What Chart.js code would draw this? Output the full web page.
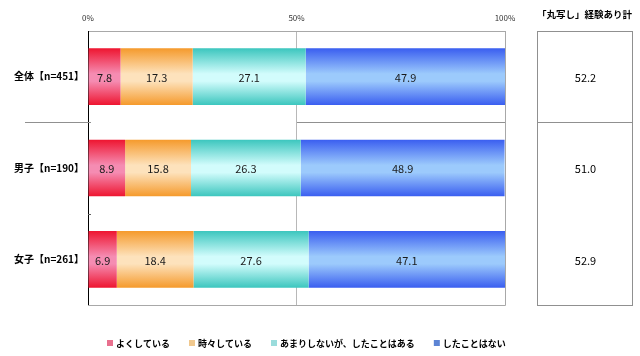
<!DOCTYPE html>
<html>
<head>
<meta charset="utf-8">
<script src="https://cdn.jsdelivr.net/npm/chart.js@4"></script>
<style>
html,body{margin:0;padding:0;background:#fff;}
#wrap{width:640px;height:356px;position:relative;}
</style>
</head>
<body>
<div id="wrap"><canvas id="c" width="640" height="356"></canvas></div>
<script>
const categories = ['全体【n=451】', '男子【n=190】', '女子【n=261】'];
const seriesNames = ['よくしている', '時々している', 'あまりしないが、したことはある', 'したことはない'];
const oftenValues = [7.8, 8.9, 6.9];
const sometimesValues = [17.3, 15.8, 18.4];
const rarelyValues = [27.1, 26.3, 27.6];
const neverValues = [47.9, 48.9, 47.1];
const experienceTotal = [52.2, 51.0, 52.9];
const experienceTitle = '「丸写し」経験あり計';
const xTicks = [0, 50, 100];

const FONT = '"Noto Sans CJK JP", "Noto Sans", sans-serif';
const edgeColors = ['#ee1530', '#f59a2c', '#3cc6be', '#3a5ef0'];
const midColors = ['#f58cb2', '#fde2bc', '#d2fcfc', '#9ccafc'];
const legendColors = ['#e8708e', '#f0c88e', '#9adcdc', '#5c84d4'];
const BAR_FRAC = 0.62;

function gradFor(i) {
  return function(ctx) {
    const chart = ctx.chart;
    const ys = chart.scales && chart.scales.y;
    if (!ys || ctx.type !== 'data' || !isFinite(ys.getPixelForValue(ctx.dataIndex))) return edgeColors[i];
    const cy = ys.getPixelForValue(ctx.dataIndex);
    const half = ys.height / categories.length * BAR_FRAC / 2;
    const g = chart.ctx.createLinearGradient(0, cy - half, 0, cy + half);
    g.addColorStop(0, edgeColors[i]);
    g.addColorStop(0.45, midColors[i]);
    g.addColorStop(0.58, midColors[i]);
    g.addColorStop(1, edgeColors[i]);
    return g;
  };
}

const seriesData = [oftenValues, sometimesValues, rarelyValues, neverValues];

const extras = {
  id: 'extras',
  afterDatasetsDraw(chart) {
    const ctx = chart.ctx;
    const a = chart.chartArea;
    const ys = chart.scales.y;
    ctx.save();
    // plot border right & bottom
    ctx.strokeStyle = '#a8a8a8';
    ctx.lineWidth = 1;
    ctx.beginPath();
    ctx.moveTo(a.right + 0.5, a.top);
    ctx.lineTo(a.right + 0.5, a.bottom + 0.5);
    ctx.lineTo(a.left, a.bottom + 0.5);
    ctx.stroke();
    // separator between first and second category
    const sepY = Math.round((ys.getPixelForValue(0) + ys.getPixelForValue(1)) / 2) + 0.5;
    ctx.strokeStyle = '#909090';
    ctx.beginPath();
    ctx.moveTo(25, sepY); ctx.lineTo(a.left + 3, sepY);
    ctx.moveTo(297, sepY); ctx.lineTo(a.right, sepY);
    ctx.stroke();
    // small tick at second boundary
    const sep2 = Math.round((ys.getPixelForValue(1) + ys.getPixelForValue(2)) / 2) + 0.5;
    ctx.strokeStyle = '#606060';
    ctx.beginPath();
    ctx.moveTo(a.left, sep2); ctx.lineTo(a.left + 3, sep2);
    ctx.stroke();

    // data labels
    ctx.fillStyle = '#1a1a1a';
    ctx.font = '11px ' + FONT;
    ctx.textAlign = 'center';
    ctx.textBaseline = 'middle';
    chart.data.datasets.forEach((ds, di) => {
      const meta = chart.getDatasetMeta(di);
      meta.data.forEach((el, i) => {
        const x = (el.x + el.base) / 2;
        ctx.fillText(ds.data[i].toFixed(1), x, el.y + 1);
      });
    });

    // right box
    const bx0 = 537, bx1 = 632;
    ctx.strokeStyle = '#909090';
    ctx.strokeRect(bx0 + 0.5, a.top + 0.5, bx1 - bx0, a.bottom - a.top);
    ctx.beginPath();
    ctx.moveTo(bx0, sepY); ctx.lineTo(bx1, sepY);
    ctx.stroke();
    ctx.fillStyle = '#000';
    ctx.font = 'bold 9.5px ' + FONT;
    ctx.fillText(experienceTitle, (bx0 + bx1) / 2, 14);
    ctx.font = '11px ' + FONT;
    experienceTotal.forEach((v, i) => {
      ctx.fillText(v.toFixed(1), (bx0 + bx1) / 2 + 1, ys.getPixelForValue(i) + 1);
    });

    // legend
    ctx.font = 'bold 9px ' + FONT;
    ctx.textAlign = 'left';
    let lx = 107;
    const ly = 343;
    chart.data.datasets.forEach((ds, di) => {
      ctx.fillStyle = legendColors[di];
      ctx.fillRect(lx, ly - 3, 6, 6);
      ctx.fillStyle = '#000';
      ctx.fillText(ds.label, lx + 9, ly + 1);
      lx += 9 + ctx.measureText(ds.label).width + 19;
    });
    ctx.restore();
  }
};

new Chart(document.getElementById('c'), {
  type: 'bar',
  data: {
    labels: categories,
    datasets: seriesNames.map((name, i) => ({
      label: name,
      data: seriesData[i],
      backgroundColor: gradFor(i),
      borderWidth: 0,
      barPercentage: BAR_FRAC,
      categoryPercentage: 1
    }))
  },
  options: {
    indexAxis: 'y',
    responsive: false,
    animation: false,
    devicePixelRatio: 1,
    layout: { padding: { top: 0, right: 135, bottom: 51, left: 0 } },
    plugins: { legend: { display: false }, tooltip: { enabled: false } },
    scales: {
      x: {
        position: 'top',
        stacked: true,
        min: 0, max: 100,
        afterBuildTicks(s) { s.ticks = xTicks.map(v => ({ value: v })); },
        afterFit(s) { s.height = 31; },
        ticks: {
          callback: v => v + '%',
          font: { family: FONT, size: 8 },
          color: '#333',
          padding: 8,
          maxRotation: 0
        },
        grid: {
          drawTicks: false,
          color: c => (c.tick && c.tick.value === 50) ? '#b8b8b8' : 'rgba(0,0,0,0)'
        },
        border: { display: true, color: '#a8a8a8' }
      },
      y: {
        stacked: true,
        afterFit(s) { s.width = 88; },
        ticks: {
          font: { family: FONT, size: 10, weight: 'bold' },
          color: '#000',
          padding: 4
        },
        grid: { display: false, drawTicks: false },
        border: { display: true, color: '#000' }
      }
    }
  },
  plugins: [extras]
});
</script>
</body>
</html>
